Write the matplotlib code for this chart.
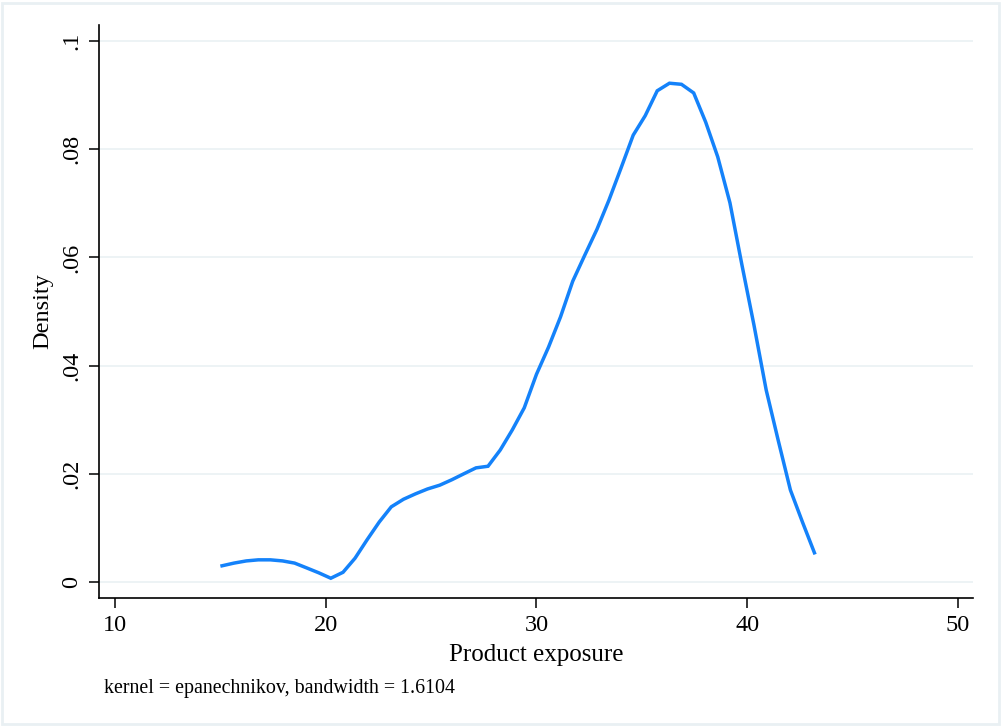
import matplotlib
matplotlib.use("Agg")
import matplotlib.pyplot as plt
from matplotlib.patches import Rectangle

# kernel density estimate (50 evaluation points)
exposure = [15.08, 15.65, 16.23, 16.80, 17.37, 17.95, 18.52, 19.10, 19.67, 20.24,
            20.82, 21.39, 21.96, 22.54, 23.11, 23.69, 24.26, 24.83, 25.41, 25.98,
            26.55, 27.13, 27.70, 28.28, 28.85, 29.42, 30.00, 30.57, 31.14, 31.72,
            32.29, 32.87, 33.44, 34.01, 34.59, 35.16, 35.73, 36.31, 36.88, 37.46,
            38.03, 38.60, 39.18, 39.75, 40.32, 40.90, 41.47, 42.05, 42.62, 43.19]
density = [0.0030, 0.0035, 0.0039, 0.0041, 0.0041, 0.0039, 0.0035, 0.0026, 0.0017, 0.0007,
           0.0018, 0.0044, 0.0078, 0.0111, 0.0139, 0.0153, 0.0163, 0.0172, 0.0179, 0.0189,
           0.0200, 0.0211, 0.0214, 0.0244, 0.0281, 0.0322, 0.0384, 0.0434, 0.0490, 0.0556,
           0.0604, 0.0652, 0.0706, 0.0765, 0.0826, 0.0862, 0.0908, 0.0922, 0.0920, 0.0904,
           0.0850, 0.0786, 0.0701, 0.0586, 0.0475, 0.0355, 0.0262, 0.0170, 0.0111, 0.0054]

x_ticks = [10, 20, 30, 40, 50]
y_ticks = [0, 0.02, 0.04, 0.06, 0.08, 0.1]
y_tick_labels = ["0", ".02", ".04", ".06", ".08", ".1"]

plt.rcParams["font.family"] = ["Liberation Serif", "DejaVu Serif"]

fig = plt.figure(figsize=(10.03, 7.27), dpi=100)
fig.patch.set_facecolor("white")
# light frame round the graph region
fig.patches.append(Rectangle((0.002, 0.004), 0.994, 0.992, transform=fig.transFigure,
                             fill=False, edgecolor="#e9f0f3", linewidth=2))

ax = fig.add_axes([0.0987, 0.1774, 0.8713, 0.7882])
ax.plot(exposure, density, color="#1482fa", linewidth=2.5, solid_joinstyle="miter")

ax.set_xlim(9.24, 50.71)
ax.set_ylim(-0.00296, 0.10296)
ax.set_xticks(x_ticks)
ax.set_yticks(y_ticks)
ax.set_yticklabels(y_tick_labels, rotation=90, va="center")

for y in y_ticks:
    ax.axhline(y, color="#eaf1f4", linewidth=1.2, zorder=0)

for side in ["top", "right"]:
    ax.spines[side].set_visible(False)
for side in ["left", "bottom"]:
    ax.spines[side].set_linewidth(1.2)
    ax.spines[side].set_color("black")

ax.tick_params(direction="out", length=7, width=1.1, labelsize=17.5, pad=5)

ax.set_xlabel("Product exposure", fontsize=18, labelpad=6)
ax.set_ylabel("Density", fontsize=17.5, labelpad=6)

fig.text(0.104, 0.047, "kernel = epanechnikov, bandwidth = 1.6104", fontsize=14.4,
         ha="left", va="baseline")

fig.savefig("out.png", dpi=100)
